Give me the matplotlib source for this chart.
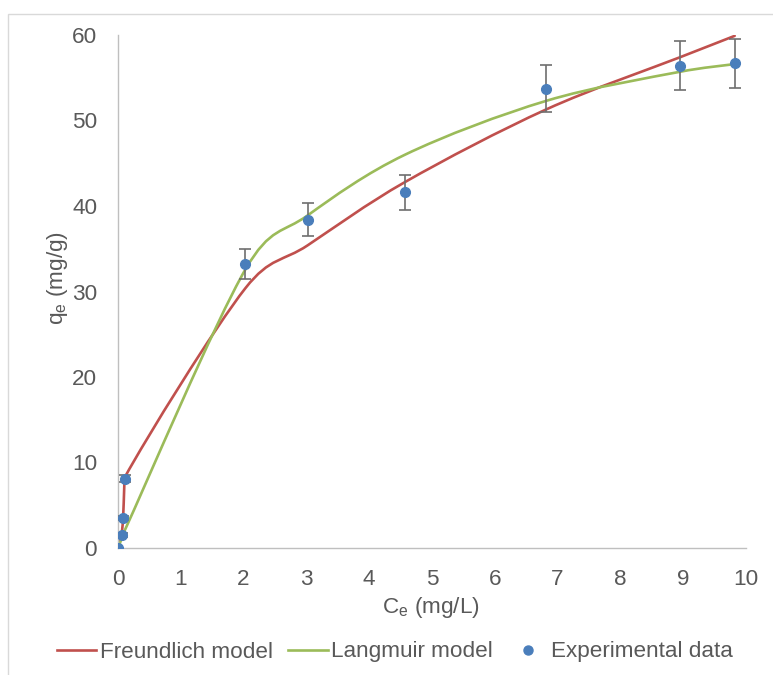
import numpy as np
import matplotlib
matplotlib.use("Agg")
import matplotlib.pyplot as plt
from matplotlib.path import Path
from matplotlib.patches import PathPatch, Rectangle
from matplotlib.lines import Line2D

# equilibrium concentration Ce (mg/L) and uptake qe (mg/g)
ce = [0.0, 0.064, 0.085, 0.11, 2.03, 3.02, 4.57, 6.82, 8.95, 9.82]
qe_exp = [0.0, 1.5, 3.5, 8.1, 33.2, 38.4, 41.6, 53.7, 56.4, 56.7]
qe_err = [0.0, 0.2, 0.2, 0.4, 1.75, 1.9, 2.05, 2.75, 2.85, 2.85]
qe_freundlich = [0.0, 2.0, 4.2, 8.3, 30.4, 35.4, 42.8, 51.3, 57.4, 59.9]
qe_langmuir = [0.0, 1.2, 1.6, 2.1, 32.6, 38.9, 46.0, 52.3, 55.7, 56.6]

txt = "#595959"
red = "#C0504D"
green = "#9BBB59"
blue = "#4A7EBB"

plt.rcParams["font.family"] = ["Liberation Sans", "DejaVu Sans"]
plt.rcParams["mathtext.default"] = "regular"


def smooth_path(x, y, t=1 / 6, lim=0.4):
    # excel-like smoothed line: cubic bezier segments, catmull-rom tangents,
    # shortened where a segment is much shorter than its neighbours
    p = np.column_stack([x, y]).astype(float)
    n = len(p)
    verts = [p[0]]
    codes = [Path.MOVETO]
    for i in range(n - 1):
        dx = p[i + 1, 0] - p[i, 0]
        a = p[i - 1] if i > 0 else p[i]
        b = p[i + 2] if i + 2 < n else p[i + 1]
        v = (p[i + 1] - a) * t
        w = (b - p[i]) * t
        if v[0] > dx * lim:
            v = v * (dx * lim) / v[0]
        if w[0] > dx * lim:
            w = w * (dx * lim) / w[0]
        verts += [p[i] + v, p[i + 1] - w, p[i + 1]]
        codes += [Path.CURVE4] * 3
    return Path(verts, codes)


fig = plt.figure(figsize=(7.73, 6.75), dpi=100)
ax = fig.add_axes([118 / 773, 1 - 548 / 675, 628 / 773, 513 / 675])

# chart border
fig.patches.append(Rectangle((8 / 773, -0.05), 1.2, 1 - 14 / 675 + 0.05,
                             transform=fig.transFigure, fill=False,
                             edgecolor="#d9d9d9", lw=1))

for path_y, col in [(qe_freundlich, red), (qe_langmuir, green)]:
    ax.add_patch(PathPatch(smooth_path(ce, path_y), fill=False,
                           edgecolor=col, lw=1.9, capstyle="round", zorder=2))

ax.errorbar(ce, qe_exp, yerr=qe_err, fmt="none", ecolor="#6e6e6e",
            elinewidth=1.2, capsize=4, capthick=1.2, zorder=3)
ax.plot(ce, qe_exp, "o", color=blue, ms=7, zorder=4)

ax.set_xlim(0, 10)
ax.set_ylim(0, 60)
ax.set_xticks(range(0, 11))
ax.set_yticks(range(0, 61, 10))
ax.tick_params(length=0, labelsize=16.2, colors=txt)
ax.tick_params(axis="x", pad=15)
ax.tick_params(axis="y", pad=15)
for s in ["top", "right"]:
    ax.spines[s].set_visible(False)
for s in ["left", "bottom"]:
    ax.spines[s].set_color("#bfbfbf")
    ax.spines[s].set_linewidth(1)

fig.text(57 / 773, 1 - 278 / 675, "q$_e$ (mg/g)", rotation=90, ha="center",
         va="center", fontsize=16.2, color=txt)
fig.text(431 / 773, 1 - 607 / 675, "C$_e$ (mg/L)", ha="center", va="center",
         fontsize=16.2, color=txt)

handles = [Line2D([], [], color=red, lw=1.9),
           Line2D([], [], color=green, lw=1.9),
           Line2D([], [], color=blue, marker="o", ls="none", ms=6.5)]
labels = ["Freundlich model", "Langmuir model", "Experimental data"]
fig.legend(handles, labels, loc="center", bbox_to_anchor=(395 / 773, 1 - 652 / 675),
           ncol=3, frameon=False, fontsize=16.2, labelcolor=txt,
           handlelength=1.75, handletextpad=0.15, columnspacing=0.7)

fig.savefig("out.png", dpi=100)
